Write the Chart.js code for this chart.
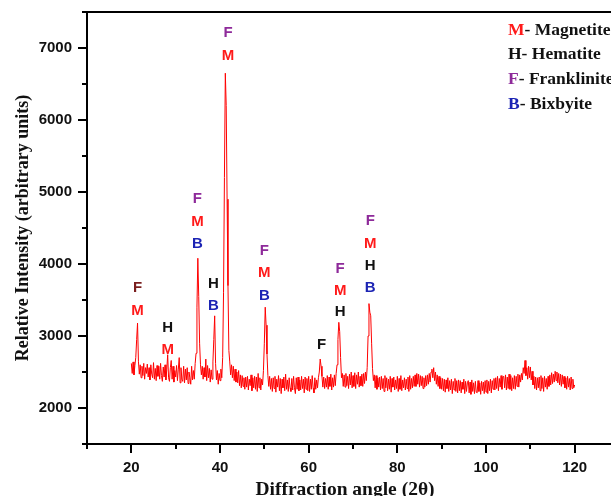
<!DOCTYPE html>
<html>
<head>
<meta charset="utf-8">
<script src="https://cdn.jsdelivr.net/npm/chart.js@4/dist/chart.umd.min.js"></script>
<style>
  html, body { margin: 0; padding: 0; background: #ffffff; overflow: hidden; }
  #wrap { position: relative; width: 632px; height: 496px; }
</style>
</head>
<body>
<div id="wrap"><canvas id="xrd"></canvas></div>
<script>
// XRD scan: 2θ from 20° to 120° in 0.2° steps
const startAngle = 20;
const angleStep = 0.2;
const counts = [
  2620, 2480, 2640, 2460, 2590, 2700, 2950, 3180, 2650, 2470, // 20
  2600, 2420, 2580, 2450, 2620, 2400, 2560, 2480, 2610, 2430, // 22
  2560, 2390, 2600, 2470, 2420, 2630, 2400, 2550, 2380, 2590, // 24
  2440, 2580, 2400, 2620, 2450, 2370, 2570, 2430, 2600, 2390, // 26
  2540, 2740, 2420, 2370, 2560, 2660, 2400, 2580, 2360, 2520, // 28
  2430, 2590, 2380, 2540, 2700, 2350, 2560, 2400, 2370, 2580, // 30
  2350, 2540, 2390, 2560, 2340, 2500, 2420, 2330, 2580, 2390, // 32
  2520, 2400, 2620, 2760, 3400, 4080, 3550, 2900, 2600, 2460, // 34
  2580, 2400, 2560, 2430, 2680, 2380, 2590, 2420, 2550, 2360, // 36
  2530, 2400, 2640, 2950, 3280, 2620, 2390, 2520, 2330, 2480, // 38
  2380, 2540, 2420, 2700, 3600, 5200, 6650, 6200, 4900, 3700, // 40
  2800, 2640, 2460, 2600, 2420, 2580, 2380, 2540, 2360, 2500, // 42
  2350, 2520, 2310, 2460, 2280, 2450, 2300, 2420, 2260, 2430, // 44
  2290, 2440, 2250, 2400, 2310, 2460, 2240, 2420, 2280, 2440, // 46
  2260, 2430, 2230, 2480, 2280, 2420, 2250, 2400, 2320, 2520, // 48
  2900, 3400, 3150, 2750, 2450, 2300, 2440, 2260, 2410, 2230, // 50
  2420, 2270, 2440, 2220, 2400, 2290, 2450, 2240, 2410, 2200, // 52
  2400, 2280, 2430, 2240, 2470, 2260, 2390, 2230, 2420, 2280, // 54
  2230, 2410, 2250, 2440, 2280, 2200, 2420, 2260, 2430, 2240, // 56
  2390, 2250, 2440, 2270, 2400, 2210, 2430, 2260, 2410, 2240, // 58
  2440, 2230, 2400, 2260, 2450, 2280, 2210, 2420, 2260, 2390, // 60
  2280, 2420, 2500, 2680, 2580, 2440, 2290, 2430, 2270, 2410, // 62
  2290, 2450, 2260, 2430, 2300, 2470, 2250, 2420, 2290, 2460, // 64
  2310, 2480, 2600, 2950, 3190, 3060, 2700, 2420, 2480, 2300, // 66
  2460, 2290, 2480, 2310, 2440, 2270, 2470, 2320, 2500, 2280, // 68
  2450, 2300, 2490, 2270, 2460, 2330, 2500, 2290, 2440, 2310, // 70
  2470, 2300, 2480, 2340, 2500, 2380, 2560, 3000, 3450, 3330, // 72
  3280, 2900, 2550, 2380, 2460, 2280, 2450, 2260, 2420, 2290, // 74
  2430, 2250, 2440, 2270, 2410, 2230, 2450, 2280, 2420, 2240, // 76
  2400, 2260, 2440, 2220, 2410, 2290, 2430, 2250, 2390, 2270, // 78
  2440, 2230, 2410, 2260, 2450, 2240, 2390, 2280, 2420, 2250, // 80
  2400, 2270, 2430, 2230, 2450, 2260, 2410, 2280, 2440, 2300, // 82
  2460, 2300, 2480, 2330, 2470, 2290, 2450, 2310, 2440, 2270, // 84
  2420, 2290, 2450, 2310, 2460, 2330, 2480, 2360, 2500, 2540, // 86
  2420, 2560, 2380, 2500, 2330, 2460, 2300, 2440, 2270, 2420, // 88
  2260, 2410, 2240, 2400, 2220, 2390, 2270, 2420, 2230, 2380, // 90
  2250, 2400, 2200, 2370, 2250, 2410, 2230, 2380, 2210, 2390, // 92
  2240, 2380, 2210, 2360, 2260, 2400, 2200, 2370, 2230, 2350, // 94
  2380, 2210, 2360, 2190, 2390, 2230, 2350, 2200, 2370, 2220, // 96
  2210, 2380, 2230, 2350, 2190, 2370, 2240, 2360, 2200, 2380, // 98
  2220, 2390, 2200, 2370, 2240, 2400, 2210, 2380, 2260, 2410, // 100
  2250, 2420, 2270, 2440, 2240, 2410, 2290, 2450, 2260, 2430, // 102
  2440, 2280, 2460, 2250, 2430, 2270, 2470, 2260, 2450, 2240, // 104
  2420, 2270, 2450, 2260, 2440, 2300, 2470, 2290, 2460, 2360, // 106
  2480, 2390, 2560, 2480, 2660, 2450, 2560, 2400, 2580, 2420, // 108
  2570, 2390, 2510, 2320, 2440, 2270, 2430, 2250, 2420, 2280, // 110
  2430, 2240, 2450, 2270, 2420, 2230, 2440, 2290, 2410, 2260, // 112
  2440, 2300, 2460, 2320, 2490, 2340, 2470, 2360, 2510, 2380, // 114
  2500, 2350, 2480, 2320, 2470, 2300, 2460, 2330, 2440, 2280, // 116
  2420, 2260, 2440, 2290, 2410, 2250, 2430, 2270, 2400, 2280, // 118
  2320                                                         // 120
];

// Phase marks above the reflections: angle, intensity level, phase letter, colour
const markAngles = [21.4, 21.4, 28.2, 28.2, 34.9, 34.9, 34.9, 38.5, 38.5, 41.8, 41.8,
                    50.0, 50.0, 50.0, 62.9, 67.1, 67.1, 67.1, 73.9, 73.9, 73.9, 73.9];
const markLevels = [3670, 3350, 3115, 2810, 4900, 4590, 4280, 3725, 3420, 7205, 6885,
                    4180, 3875, 3555, 2880, 3930, 3625, 3335, 4600, 4280, 3975, 3670];
const markCodes  = ['F', 'M', 'H', 'M', 'F', 'M', 'B', 'H', 'B', 'F', 'M',
                    'F', 'M', 'B', 'F', 'F', 'M', 'H', 'F', 'M', 'H', 'B'];
const markColors = ['#7a1e1e', '#ff1a1a', '#111111', '#ff1a1a', '#8e2a9a', '#ff1a1a', '#1c24b4',
                    '#111111', '#1c24b4', '#8e2a9a', '#ff1a1a', '#8e2a9a', '#ff1a1a', '#1c24b4',
                    '#111111', '#8e2a9a', '#ff1a1a', '#111111', '#8e2a9a', '#ff1a1a', '#111111', '#1c24b4'];

// Phase key
const keyCodes  = ['M', 'H', 'F', 'B'];
const keyNames  = ['Magnetite', 'Hematite', 'Franklinite', 'Bixbyite'];
const keyColors = ['#ff1a1a', '#111111', '#8e2a9a', '#1c24b4'];

// Axis text
const xTitle = 'Diffraction angle (2\u03b8)';
const yTitle = 'Relative Intensity (arbitrary units)';

const points = counts.map((c, i) => ({ x: +(startAngle + i * angleStep).toFixed(1), y: c }));

const frameAndMarks = {
  id: 'frameAndMarks',
  afterDraw(chart) {
    const { ctx, chartArea: a, scales: { x: xs, y: ys } } = chart;
    ctx.save();
    ctx.strokeStyle = '#000';
    ctx.lineWidth = 2;
    // top and right frame
    ctx.beginPath();
    ctx.moveTo(a.left - 1, a.top);
    ctx.lineTo(a.right, a.top);
    ctx.lineTo(a.right, a.bottom);
    ctx.stroke();
    // outward tick marks (long for labelled ticks, short for the others)
    xs.ticks.forEach(t => {
      const px = Math.round(xs.getPixelForValue(t.value));
      const len = t.value % 20 === 0 ? 9 : 5;
      ctx.beginPath();
      ctx.moveTo(px, a.bottom);
      ctx.lineTo(px, a.bottom + len);
      ctx.stroke();
    });
    ys.ticks.forEach(t => {
      const py = Math.round(ys.getPixelForValue(t.value));
      const len = t.value % 1000 === 0 ? 9 : 5;
      ctx.beginPath();
      ctx.moveTo(a.left, py);
      ctx.lineTo(a.left - len, py);
      ctx.stroke();
    });

    // phase letters over the peaks
    ctx.font = 'bold 15px "Liberation Sans", Arial, sans-serif';
    ctx.textAlign = 'center';
    ctx.textBaseline = 'middle';
    markCodes.forEach((code, i) => {
      ctx.fillStyle = markColors[i];
      ctx.fillText(code, xs.getPixelForValue(markAngles[i]), ys.getPixelForValue(markLevels[i]));
    });

    // phase key
    ctx.font = 'bold 17.5px "Liberation Serif", "Times New Roman", serif';
    ctx.textAlign = 'left';
    ctx.textBaseline = 'alphabetic';
    keyCodes.forEach((code, i) => {
      const y = 34.5 + i * 24.7;
      const x0 = 508;
      ctx.fillStyle = keyColors[i];
      ctx.fillText(code, x0, y);
      const w = ctx.measureText(code).width;
      ctx.fillStyle = '#111';
      ctx.fillText('- ' + keyNames[i], x0 + w, y);
    });

    // axis titles
    ctx.fillStyle = '#111';
    ctx.font = 'bold 19.5px "Liberation Serif", "Times New Roman", serif';
    ctx.textAlign = 'center';
    ctx.fillText(xTitle, 345, 495);
    ctx.translate(28, (a.top + a.bottom) / 2);
    ctx.rotate(-Math.PI / 2);
    ctx.font = 'bold 18px "Liberation Serif", "Times New Roman", serif';
    ctx.fillText(yTitle, 0, 0);
    ctx.restore();
  }
};

new Chart(document.getElementById('xrd'), {
  type: 'line',
  data: {
    datasets: [{
      data: points,
      borderColor: '#ff0000',
      borderWidth: 1,
      pointRadius: 0,
      tension: 0,
      fill: false
    }]
  },
  options: {
    responsive: true,
    maintainAspectRatio: false,
    animation: false,
    devicePixelRatio: 1,
    layout: { padding: { top: 12, right: 13, left: 0, bottom: 0 } },
    plugins: { legend: { display: false }, tooltip: { enabled: false } },
    scales: {
      x: {
        type: 'linear',
        min: 10,
        max: 130,
        afterFit: s => { s.height = 52; s.paddingLeft = 0; s.paddingRight = 0; },
        grid: { display: false, drawTicks: false },
        border: { display: true, color: '#000', width: 2 },
        ticks: {
          stepSize: 10,
          padding: 15,
          color: '#111',
          font: { family: '"Liberation Sans", Arial, sans-serif', size: 15, weight: 'bold' },
          maxRotation: 0,
          autoSkip: false,
          callback: v => (v % 20 === 0 && v >= 20 && v <= 120) ? String(v) : ''
        }
      },
      y: {
        type: 'linear',
        min: 1500,
        max: 7500,
        afterFit: s => { s.width = 87; s.paddingTop = 0; s.paddingBottom = 0; },
        grid: { display: false, drawTicks: false },
        border: { display: true, color: '#000', width: 2 },
        ticks: {
          stepSize: 500,
          padding: 15,
          color: '#111',
          font: { family: '"Liberation Sans", Arial, sans-serif', size: 15, weight: 'bold' },
          autoSkip: false,
          callback: v => (v % 1000 === 0 && v >= 2000 && v <= 7000) ? String(v) : ''
        }
      }
    }
  },
  plugins: [frameAndMarks]
});
</script>
</body>
</html>
